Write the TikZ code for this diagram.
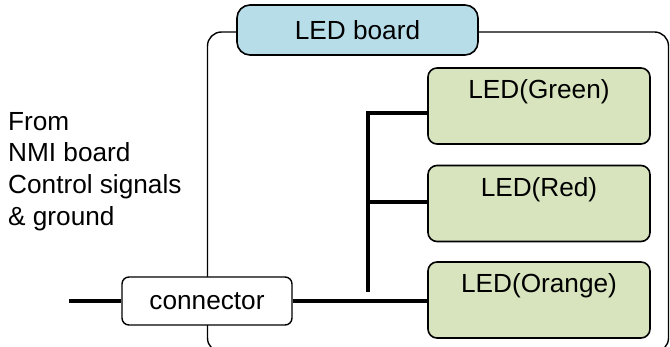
\documentclass[tikz,border=0pt]{standalone}
\usepackage{fontspec}
\setmainfont{Liberation Sans}
\definecolor{boardblue}{HTML}{B7DDE8}
\definecolor{ledgreen}{HTML}{D7E4BD}
\tikzset{
  outline/.style={draw=black, line width=1.4pt, rounded corners=14pt},
  titlebox/.style={draw=black, line width=1.6pt, fill=boardblue, rounded corners=13pt,
    minimum width=241pt, minimum height=50pt, inner sep=0pt},
  ledbox/.style={draw=black, line width=1.6pt, fill=ledgreen, rounded corners=9pt,
    minimum width=222pt, inner xsep=0pt, inner ysep=0pt, text height=31pt, text depth=45pt},
  connbox/.style={draw=black, line width=1.4pt, fill=white, rounded corners=7pt,
    minimum width=170pt, minimum height=48pt, inner sep=0pt},
  wire/.style={line width=3.8pt},
}
\begin{document}
\begin{tikzpicture}[x=1pt, y=-1pt, font=\fontsize{26.2}{31.7}\selectfont]
\useasboundingbox (0,0) rectangle (670,347);
\clip (0,0) rectangle (670,347);

% board outline
\draw[outline] (207.5,32) rectangle (668.5,352);

% title and modules
\node[titlebox] (board) at (357.5,30) {LED board};
\node[connbox] (conn) at (207,301) {connector};
\node[ledbox] (green) at (539,106) {LED(Green)};
\node[ledbox] (red) at (539,203.5) {LED(Red)};
\node[ledbox] (orange) at (539,300) {LED(Orange)};

% source description
\node[anchor=north west, align=left, inner sep=0pt] (src) at (8,112)
  {From\\NMI board\\Control signals\\\& ground};

% wiring
\coordinate (in) at (69,301);
\coordinate (bt) at (368,113);
\coordinate (bb) at (368,292);
\coordinate (bm) at (368,202);
\draw[wire] (in) -- (conn.west);
\draw[wire] (conn.east) -- (conn.east -| orange.west);
\draw[wire] (bt -| green.west) -- (bt) -- (bb);
\draw[wire] (bm) -- (bm -| red.west);
\end{tikzpicture}
\end{document}
